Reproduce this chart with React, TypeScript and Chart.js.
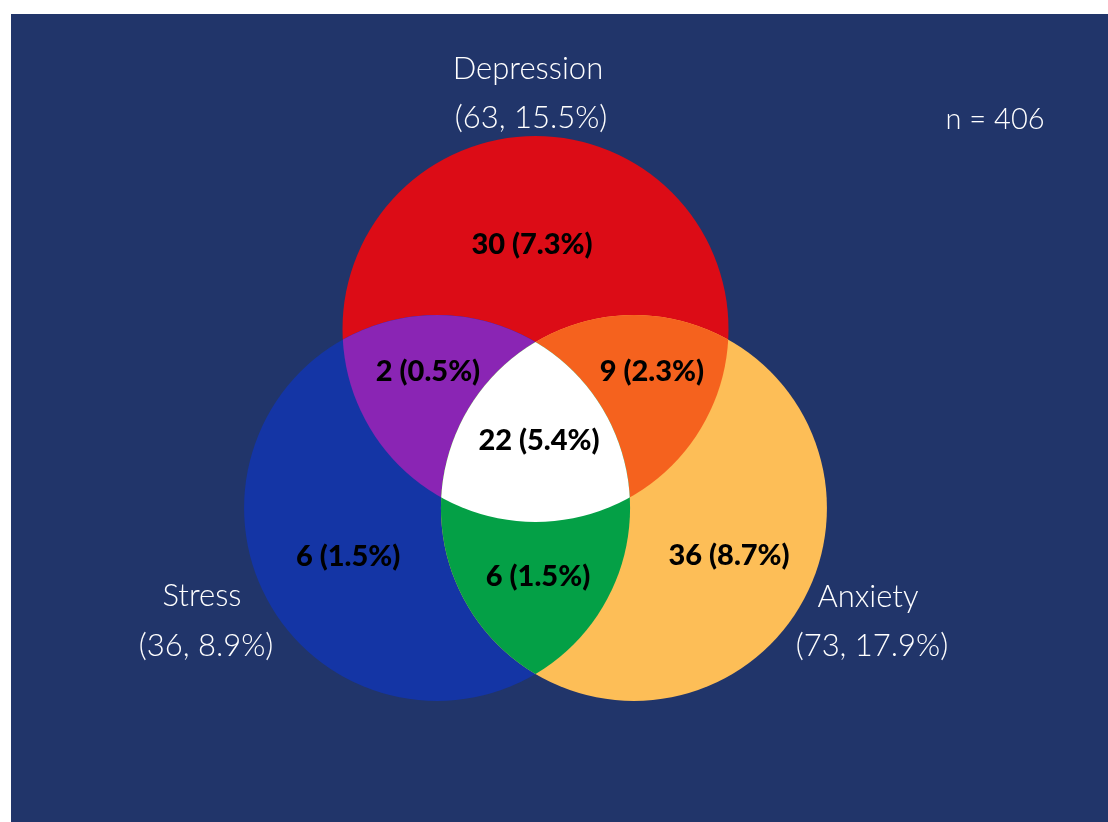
import { useEffect, useRef } from 'react';
import { Chart, registerables } from 'chart.js';

Chart.register(...registerables);

// ---- data ----
const SET_NAMES = ['Depression', 'Stress', 'Anxiety'];
const SET_TOTALS = [63, 36, 73];
const SET_PCTS = [15.5, 8.9, 17.9];
const SAMPLE_SIZE = 406;

// regions: D only, S only, A only, D∩S, D∩A, S∩A, D∩S∩A
const REGION_KEYS = ['D', 'S', 'A', 'DS', 'DA', 'SA', 'DSA'];
const REGION_COUNTS = [30, 6, 36, 2, 9, 6, 22];
const REGION_PCTS = [7.3, 1.5, 8.7, 0.5, 2.3, 1.5, 5.4];

// ---- layout (data units, radius = 1) ----
const CIRCLE_X = [0, -0.51, 0.51];
const CIRCLE_Y = [0.9275, 0, 0];
const RADIUS = 1;
const X_MIN = -2.7176;
const X_MAX = 2.9663;
const Y_MIN = -1.6269;
const Y_MAX = 2.5596;

const REGION_LABEL_X = [-0.018, -0.971, 1.003, -0.557, 0.603, 0.013, 0.018];
const REGION_LABEL_Y = [1.363, -0.254, -0.249, 0.705, 0.705, -0.358, 0.347];
const SET_NAME_X = [-0.039, -1.728, 1.723];
const SET_NAME_Y = [2.275, -0.456, -0.461];
const SET_SUB_X = [-0.023, -1.707, 1.743];
const SET_SUB_Y = [2.021, -0.715, -0.715];
const N_X = 2.381;
const N_Y = 2.01;

// ---- styles ----
const BG = '#21356a';
const SET_COLORS = ['#dc0c16', '#1435a5', '#fdbe57'];
const PAIR_COLORS: Record<string, string> = { DS: '#8a25b4', DA: '#f5621e', SA: '#04a046' };
const TRIPLE_COLOR = '#ffffff';
const FONT = 'Lato, "Noto Sans", sans-serif';

const vennPlugin = {
  id: 'venn',
  beforeDraw(chart: any) {
    const { ctx, width, height } = chart;
    ctx.save();
    ctx.fillStyle = BG;
    ctx.fillRect(0, 0, width, height);
    ctx.restore();
  },
  afterDatasetsDraw(chart: any) {
    const { ctx } = chart;
    const xs = chart.scales.x;
    const ys = chart.scales.y;
    const px = (v: number) => xs.getPixelForValue(v);
    const py = (v: number) => ys.getPixelForValue(v);
    const R = px(RADIUS) - px(0);
    const cs = CIRCLE_X.map((x, i) => ({ x: px(x), y: py(CIRCLE_Y[i]) }));
    const path = (i: number) => {
      ctx.beginPath();
      ctx.arc(cs[i].x, cs[i].y, R, 0, Math.PI * 2);
      ctx.closePath();
    };
    ctx.save();
    // single sets
    [0, 1, 2].forEach((i) => {
      path(i);
      ctx.fillStyle = SET_COLORS[i];
      ctx.fill();
    });
    // pairs
    const pairs: [number, number, string][] = [
      [0, 1, 'DS'],
      [0, 2, 'DA'],
      [1, 2, 'SA'],
    ];
    pairs.forEach(([a, b, k]) => {
      ctx.save();
      path(a);
      ctx.clip();
      path(b);
      ctx.fillStyle = PAIR_COLORS[k];
      ctx.fill();
      ctx.restore();
    });
    // triple
    ctx.save();
    path(0);
    ctx.clip();
    path(1);
    ctx.clip();
    path(2);
    ctx.fillStyle = TRIPLE_COLOR;
    ctx.fill();
    ctx.restore();

    ctx.textAlign = 'center';
    ctx.textBaseline = 'middle';
    // region labels
    ctx.fillStyle = '#000000';
    ctx.font = `900 29px ${FONT}`;
    REGION_KEYS.forEach((_, i) => {
      ctx.fillText(
        `${REGION_COUNTS[i]} (${REGION_PCTS[i].toFixed(1)}%)`,
        px(REGION_LABEL_X[i]),
        py(REGION_LABEL_Y[i])
      );
    });
    // set labels
    ctx.fillStyle = '#ffffff';
    ctx.font = `300 31px ${FONT}`;
    SET_NAMES.forEach((name, i) => {
      ctx.fillText(name, px(SET_NAME_X[i]), py(SET_NAME_Y[i]));
      ctx.fillText(
        `(${SET_TOTALS[i]}, ${SET_PCTS[i].toFixed(1)}%)`,
        px(SET_SUB_X[i]),
        py(SET_SUB_Y[i])
      );
    });
    ctx.font = `300 29px ${FONT}`;
    ctx.fillText(`n = ${SAMPLE_SIZE}`, px(N_X), py(N_Y));
    ctx.restore();
  },
};

export default function App() {
  const ref = useRef<HTMLCanvasElement>(null);
  useEffect(() => {
    if (!ref.current) return;
    const chart = new Chart(ref.current, {
      type: 'scatter',
      data: {
        datasets: [
          {
            label: 'circles',
            data: CIRCLE_X.map((x, i) => ({ x, y: CIRCLE_Y[i] })),
            pointRadius: 0,
            pointHoverRadius: 0,
          },
        ],
      },
      options: {
        responsive: true,
        maintainAspectRatio: false,
        animation: false,
        events: [],
        layout: { padding: 0 },
        plugins: { legend: { display: false }, tooltip: { enabled: false } },
        scales: {
          x: { type: 'linear', min: X_MIN, max: X_MAX, display: false },
          y: { type: 'linear', min: Y_MIN, max: Y_MAX, display: false },
        },
      },
      plugins: [vennPlugin],
    });
    return () => chart.destroy();
  }, []);
  return (
    <div style={{ position: 'absolute', left: 11, top: 14, width: 1097, height: 808 }}>
      <canvas ref={ref} />
    </div>
  );
}
